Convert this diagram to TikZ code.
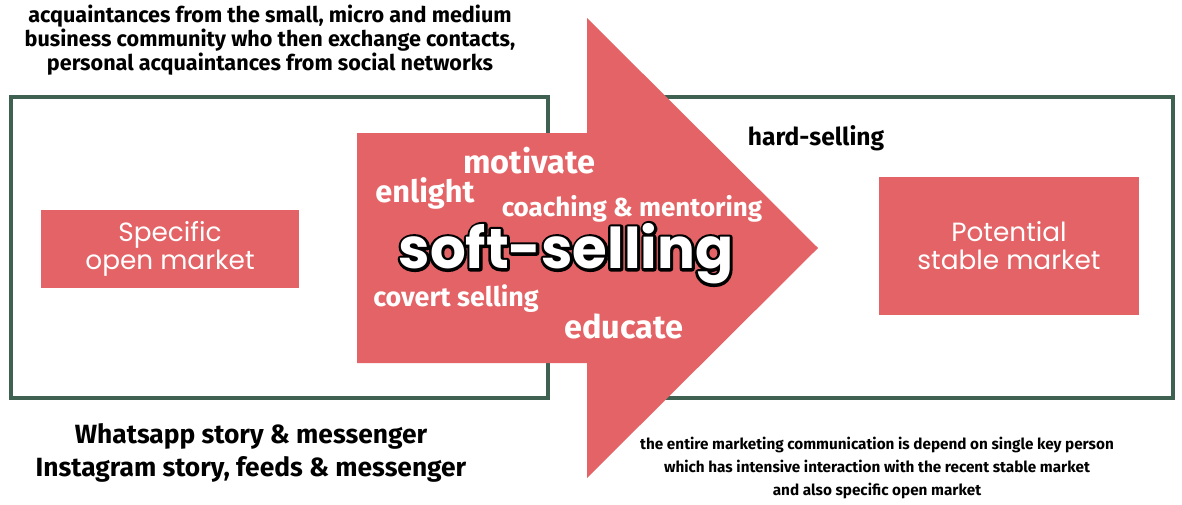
\documentclass[tikz,border=0pt]{standalone}
\usepackage{fontspec}
\setmainfont{Fira Sans}
\newfontfamily\boxfont{Poppins}
\definecolor{salmon}{HTML}{E46366}
\definecolor{pine}{HTML}{3E6152}
\newcommand{\outlined}[1]{\special{pdf:literal direct 1 Tr 3.2 w 1 j}#1\special{pdf:literal direct 0 Tr}}

\begin{document}
\begin{tikzpicture}[x=0.02cm,y=-0.02cm,
  frame/.style={draw=pine,line width=2.2pt},
  market/.style={fill=salmon,text=white,font=\boxfont\fontsize{15}{16}\selectfont,align=center,inner sep=0pt},
  whiteword/.style={text=white,font=\bfseries\fontsize{18}{20}\selectfont,inner sep=0pt},
  note/.style={font=\bfseries\fontsize{12.3}{12.5}\selectfont,align=center,inner sep=0pt}]
		%%%%% START %%%%%
		\useasboundingbox (0,0) rectangle (1182,504);
		
		\draw[frame] (11,97) rectangle (548,398);
		\draw[frame] (663,97) rectangle (1173,398);
		
		\fill[salmon] (357,133) -- (587,133) -- (587,18) -- (818,248) -- (587,478) -- (587,363) -- (357,363) -- cycle;
		
		\node[market, minimum width=5.18cm, minimum height=1.56cm] (open) at (170,249) {Specific\\open market};
		\node[market, minimum width=5.2cm, minimum height=2.78cm] (stable) at (1009,246) {Potential\\stable market};
		
		\node[whiteword, font=\bfseries\fontsize{18.5}{20}\selectfont] (motivate) at (529,161) {motivate};
		\node[whiteword, font=\bfseries\fontsize{17.5}{20}\selectfont] (enlight) at (425,193) {enlight};
		\node[whiteword, font=\bfseries\fontsize{14.8}{16}\selectfont] (coaching) at (632,209) {coaching \& mentoring};
		\node[inner sep=0pt, font=\boxfont\bfseries\fontsize{32}{34}\selectfont] (softline) at (566,254) {\outlined{soft-selling}};
		\node[inner sep=0pt, text=white, font=\boxfont\bfseries\fontsize{32}{34}\selectfont] (soft) at (softline) {soft-selling};
		\node[whiteword, font=\bfseries\fontsize{15.3}{16}\selectfont] (covert) at (456,299) {covert selling};
		\node[whiteword, font=\bfseries\fontsize{18.5}{20}\selectfont] (educate) at (624,326) {educate};
		
		\node[note, font=\bfseries\fontsize{14}{15}\selectfont] (hard) at (816,138) {hard-selling};
		\node[note] (network) at (270,40) {acquaintances from the small, micro and medium\\business community who then exchange contacts,\\personal acquaintances from social networks};
		\node[note, font=\bfseries\fontsize{15}{18.7}\selectfont] (social) at (251,453) {Whatsapp story \& messenger\\Instagram story, feeds \& messenger};
		\node[note, font=\bfseries\fontsize{8.7}{13}\selectfont] (keyperson) at (877,468) {the entire marketing communication is depend on single key person\\which has intensive interaction with the recent stable market\\and also specific open market};
		
		%%%%% END %%%%%
\end{tikzpicture}
\end{document}
